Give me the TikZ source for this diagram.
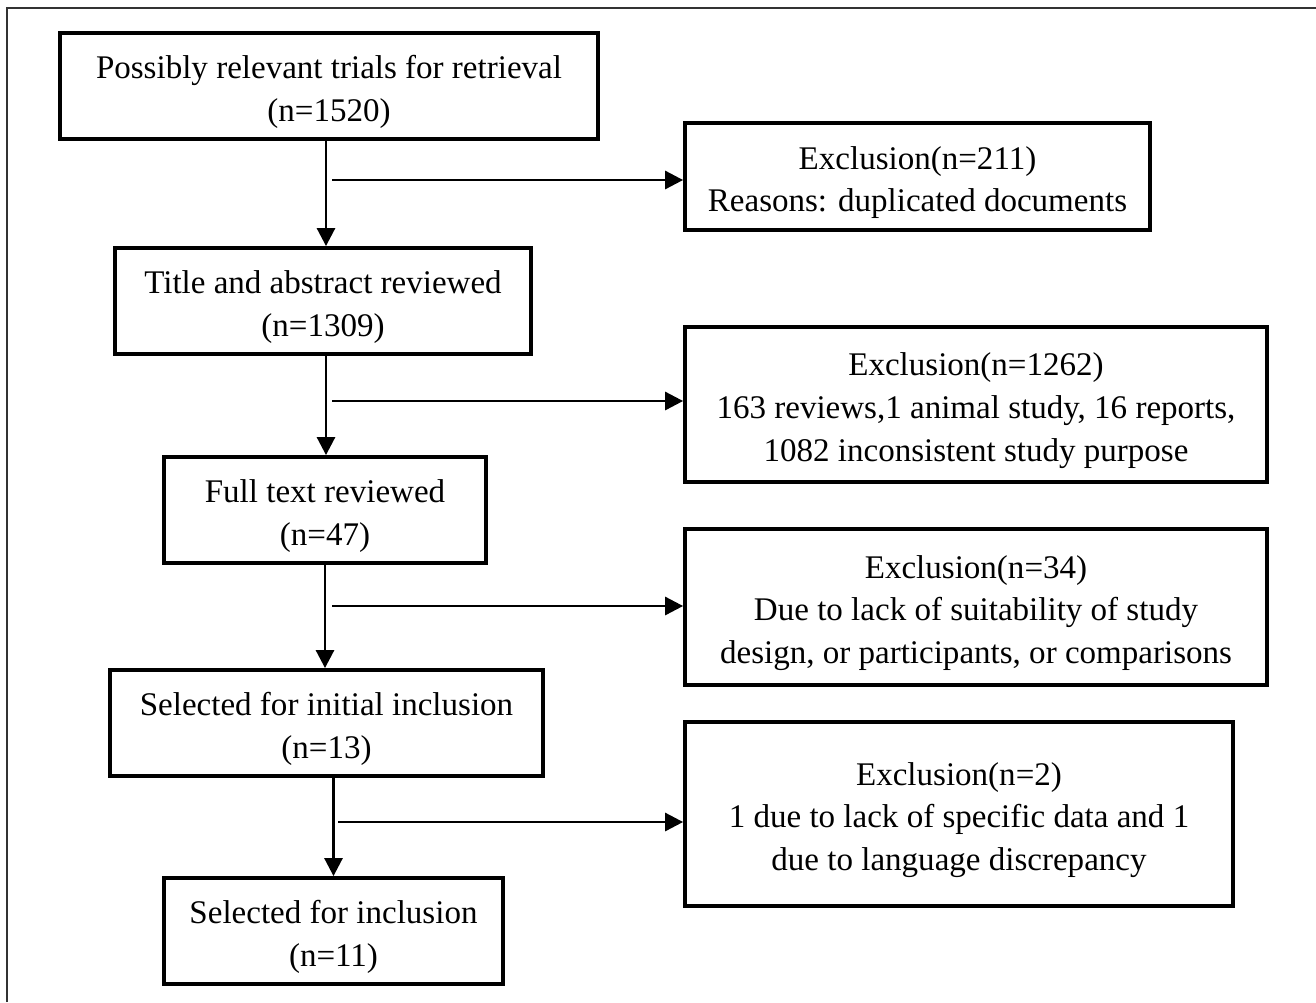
\documentclass[tikz,border=0pt]{standalone}
\usepackage{fontspec}
\setmainfont{Liberation Serif}
\usetikzlibrary{positioning,calc,arrows.meta}
\newcommand\topgap{\rule{0pt}{0.7cm}}
\tikzset{
  stage/.style={draw,line width=2.2pt,align=center,inner sep=0pt,
    font=\fontsize{18.8}{24.4}\selectfont},
  arr/.style={line width=1.6pt,-{Triangle[length=0.36cm,width=0.36cm]}}
}
\begin{document}
\begin{tikzpicture}[x=0.02cm,y=-0.02cm]
    \useasboundingbox (0,0) rectangle (1316,1002);
    \draw[line width=1pt,black!80] (7,1002) -- (7,8) -- (1316,8);
    % main column
    \node (pos) [stage,minimum width=10.76cm,minimum height=2.12cm] at (329,86)
      {\topgap Possibly relevant trials for retrieval\\(n=1520)};
    \node (tit) [stage,minimum width=8.32cm,minimum height=2.12cm] at (323,301)
      {\topgap Title and abstract reviewed\\(n=1309)};
    \node (ful) [stage,minimum width=6.44cm,minimum height=2.12cm] at (325,510)
      {\topgap Full text reviewed\\(n=47)};
    \node (ini) [stage,minimum width=8.66cm,minimum height=2.12cm] at (326.5,723)
      {\topgap Selected for initial inclusion\\(n=13)};
    \node (inc) [stage,minimum width=6.78cm,minimum height=2.12cm] at (333.5,931)
      {\topgap Selected for inclusion\\(n=11)};
    % exclusions
    \node (ex1) [stage,minimum width=9.3cm,minimum height=2.14cm] at (917.5,176.5)
      {\topgap Exclusion(n=211)\\Reasons: duplicated documents};
    \node (ex2) [stage,minimum width=11.64cm,minimum height=3.1cm] at (976,404.5)
      {\topgap Exclusion(n=1262)\\163 reviews,1 animal study, 16 reports,\\1082 inconsistent study purpose};
    \node (ex3) [stage,minimum width=11.64cm,minimum height=3.12cm] at (976,607)
      {\topgap Exclusion(n=34)\\Due to lack of suitability of study\\design, or participants, or comparisons};
    \node (ex4) [stage,minimum width=10.96cm,minimum height=3.68cm] at (959,814)
      {\topgap Exclusion(n=2)\\1 due to lack of specific data and 1\\due to language discrepancy};
    % flow
    \draw[arr] ([xshift=-0.06cm]pos.south) -- ([xshift=-0.06cm]pos.south |- tit.north);
    \draw[arr] ([xshift=0.06cm]tit.south) -- ([xshift=0.06cm]tit.south |- ful.north);
    \draw[arr] (ful.south) -- (ful.south |- ini.north);
    \draw[arr] (inc.north |- ini.south) -- (inc.north);
    \coordinate (b1) at (332,180);
    \coordinate (b2) at (332,401);
    \coordinate (b3) at (332,606);
    \coordinate (b4) at (338,822);
    \draw[arr] (b1) -- (b1 -| ex1.west);
    \draw[arr] (b2) -- (b2 -| ex2.west);
    \draw[arr] (b3) -- (b3 -| ex3.west);
    \draw[arr] (b4) -- (b4 -| ex4.west);
\end{tikzpicture}
\end{document}
